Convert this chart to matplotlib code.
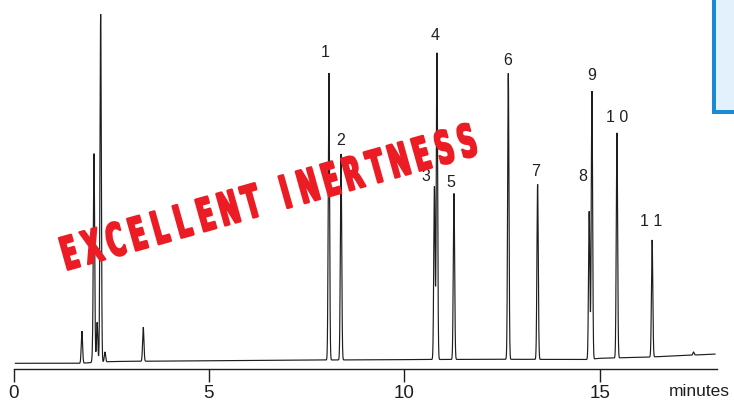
import numpy as np
import matplotlib
matplotlib.use("Agg")
import matplotlib.pyplot as plt
import matplotlib.transforms as mtransforms
from matplotlib.textpath import TextPath
from matplotlib.font_manager import FontProperties
from matplotlib.patches import PathPatch, Rectangle

# ---------------- data ----------------
# peak retention times (min) and heights (arbitrary detector units above baseline)
peak_times = [1.75, 2.03, 2.06, 2.14, 2.23, 2.34, 3.32,
              8.07, 8.38, 10.77, 10.835, 11.27, 12.66, 13.41,
              14.73, 14.80, 15.44, 16.34, 17.40]
peak_heights = [32, 9, 207, 40, 348, 10, 34,
                287, 206, 173, 307, 166, 286, 175,
                148, 268, 225, 117, 3]
# baseline drift points (min, units)
base_times = [0.05, 1.7, 2.5, 5.0, 8.0, 10.7, 12.6, 14.7, 15.0, 16.3, 18.0]
base_values = [-0.8, -0.8, 1.0, 1.8, 2.5, 3.0, 3.2, 3.0, 4.2, 5.5, 8.5]

# numbered peaks
label_texts = ["1", "2", "3", "4", "5", "6", "7", "8", "9", "1 0", "1 1"]
label_peak_idx = [7, 8, 9, 10, 11, 12, 13, 14, 15, 16, 17]

x_ticks = [0, 5, 10, 15]
x_label = "minutes"
stamp_words = ["EXCELLENT", "INERTNESS"]

# ---------------- figure ----------------
W, H = 734, 401
fig = plt.figure(figsize=(W / 100, H / 100), dpi=100)
ax_left, ax_right = 13.5, 717
ax_bottom_px, ax_top_px = 369, 0
ax = fig.add_axes([ax_left / W, 1 - ax_bottom_px / H,
                   (ax_right - ax_left) / W, (ax_bottom_px - ax_top_px) / H])

t = np.arange(base_times[0], 17.95, 0.002)
signal = np.interp(t, base_times, base_values)
sigma = 0.017
for tr, h in zip(peak_times, peak_heights):
    signal = signal + h * np.exp(-0.5 * ((t - tr) / sigma) ** 2)

ax.plot(t, signal, color="#1e1e1e", lw=0.85, solid_joinstyle="miter")
ax.set_xlim(0, 18.0)
ax.set_ylim(-6.5, 362.5)

for sp in ["left", "right", "top"]:
    ax.spines[sp].set_visible(False)
ax.spines["bottom"].set_linewidth(1.0)
ax.spines["bottom"].set_color("#1e1e1e")
ax.set_yticks([])
ax.set_xticks(x_ticks)
ax.set_xticklabels([str(v) for v in x_ticks], fontsize=13.5,
                   family="Liberation Sans", color="#1e1e1e")
ax.tick_params(axis="x", direction="out", length=9, width=1.0,
               color="#1e1e1e", pad=2.5)
fig.text(699 / W, 1 - 384 / H, x_label,
         ha="center", va="top", fontsize=12.5, family="Liberation Sans",
         color="#1e1e1e")

# peak number labels (offsets in points from the apex)
label_offsets = [(-3, 15), (0, 10), (-6, 7), (-1.5, 12), (-2, 8),
                 (-0.5, 9), (-1.5, 9), (-5, 25), (0, 11), (0, 11), (-0.5, 13)]
for txt, idx, (dx, dy) in zip(label_texts, label_peak_idx, label_offsets):
    tp = peak_times[idx]
    yp = np.interp(tp, base_times, base_values) + peak_heights[idx]
    ax.annotate(txt, xy=(tp, yp), xytext=(dx, dy), textcoords="offset points",
                ha="center", va="center", fontsize=11.5,
                family="Liberation Sans", color="#231f20")

# ---------------- red stamp text ----------------
fp = FontProperties(family="DejaVu Sans", weight="bold")
size = 45
angle = 15.7
x0, y0 = 74, H - 268          # centre of first letter on the baseline (pixels)
adv = 22.7 / np.cos(np.radians(angle))
word_gap = 1.5
k = 0.0
for w_i, word in enumerate(stamp_words):
    for ch in word:
        path = TextPath((0, 0), ch, size=size, prop=fp)
        ext = path.get_extents()
        cx = (ext.x0 + ext.x1) / 2
        trf = (mtransforms.Affine2D().translate(-cx, 0).scale(0.54, 1.0)
               .translate(k * adv, 0).rotate_deg(angle).translate(x0, y0))
        patch = PathPatch(path, transform=trf, facecolor="#ec1c24",
                          edgecolor="#ec1c24", lw=1.7, joinstyle="round", zorder=10)
        fig.add_artist(patch)
        k += 1
    k += word_gap - 1

# ---------------- blue box (upper right, cropped) ----------------
bw = 4
box = Rectangle((713.7, H - 112), 60, 150, transform=mtransforms.IdentityTransform(),
                facecolor="#e2f1fb", edgecolor="#1a8ad4", lw=bw * 0.72, zorder=5)
fig.add_artist(box)

fig.savefig("out.png", dpi=100)
